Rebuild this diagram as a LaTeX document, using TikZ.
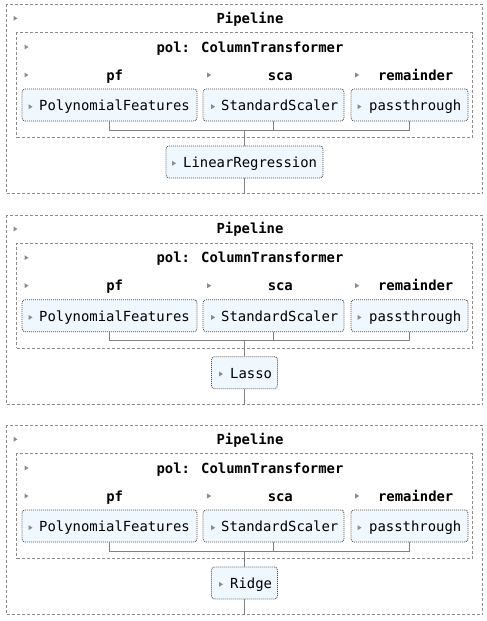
\documentclass[tikz,border=0pt]{standalone}
\usepackage{fontspec}
\newfontfamily\mono{DejaVu Sans Mono}
\definecolor{boxfill}{HTML}{F0F8FF}
\definecolor{boxline}{HTML}{4A4A4A}
\definecolor{dashcol}{HTML}{8A8A8A}
\definecolor{conncol}{HTML}{808080}
\definecolor{tricol}{HTML}{8C8C8C}
\tikzset{
  container/.style={draw=dashcol, dash pattern=on 3pt off 2pt, line width=1pt, inner sep=0pt},
  estbox/.style={draw=boxline, fill=boxfill, rounded corners=3pt, dash pattern=on 1pt off 1pt, line width=0.8pt, minimum height=32pt, inner sep=0pt},
  esttext/.style={font=\mono\fontsize{13.9pt}{16pt}\selectfont, text=black, inner sep=0pt, anchor=mid west},
  title/.style={font=\mono\bfseries\fontsize{13.9pt}{16pt}\selectfont, text=black, inner sep=0pt, anchor=mid},
  conn/.style={draw=conncol, line width=1pt},
}
\newcommand{\tri}[2]{\fill[tricol] (#1-1.5,#2-2.5) -- (#1+2.5,#2) -- (#1-1.5,#2+2.5) -- cycle;}
\newcommand{\pipe}[5]{%
\begin{scope}[yshift=-#1pt]
  \node[container, minimum width=476pt, minimum height=189pt, anchor=north west] (pipe#2) at (6.3,4.3) {};
  \node[container, minimum width=455.7pt, minimum height=104.7pt, anchor=north west] (ct#2) at (16.3,32.3) {};
  \node[title] (ttl#2) at (250,21) {Pipeline};
  \node[title] (ctl#2) at (250,50) {pol: ColumnTransformer};
  \node[title] (pfl#2) at (114.7,78) {pf};
  \node[title] (scal#2) at (280.3,78) {sca};
  \node[title] (reml#2) at (415.7,78) {remainder};
  \tri{15}{18.3}\tri{26}{47}\tri{26}{75}\tri{208.7}{75}\tri{356.7}{75}
  \node[estbox, minimum width=175pt] (pf#2) at (109.5,105) {};
  \node[estbox, minimum width=141pt] (sca#2) at (273.5,105) {};
  \node[estbox, minimum width=117pt] (rem#2) at (409.5,105) {};
  \node[esttext] (pft#2) at (39,108.8) {PolynomialFeatures};
  \node[esttext] (scat#2) at (221,108.8) {StandardScaler};
  \node[esttext] (remt#2) at (369,108.8) {passthrough};
  \tri{30}{106.7}\tri{212.7}{106.7}\tri{359}{106.7}
  \node[estbox, minimum width=#4pt] (est#2) at (244.5,162) {};
  \node[esttext] (estt#2) at (#5,165.8) {#3};
  \tri{#5-9.5}{163.3}
  \coordinate (j#2) at (244.5,130);
  \draw[conn] (pf#2.south) -- (pf#2.south |- j#2) -| (rem#2.south);
  \draw[conn] (sca#2.south) -- (sca#2.south |- j#2);
  \draw[conn] (j#2) -- (est#2.north);
  \draw[conn] (est#2.south) -- (est#2.south |- pipe#2.south);
\end{scope}}
\begin{document}
\begin{tikzpicture}[x=1pt,y=-1pt]
\useasboundingbox (0,0) rectangle (487,621);
\pipe{0}{a}{LinearRegression}{157}{183}
\pipe{210.7}{b}{Lasso}{66}{230}
\pipe{421}{c}{Ridge}{66}{230}
\end{tikzpicture}
\end{document}
